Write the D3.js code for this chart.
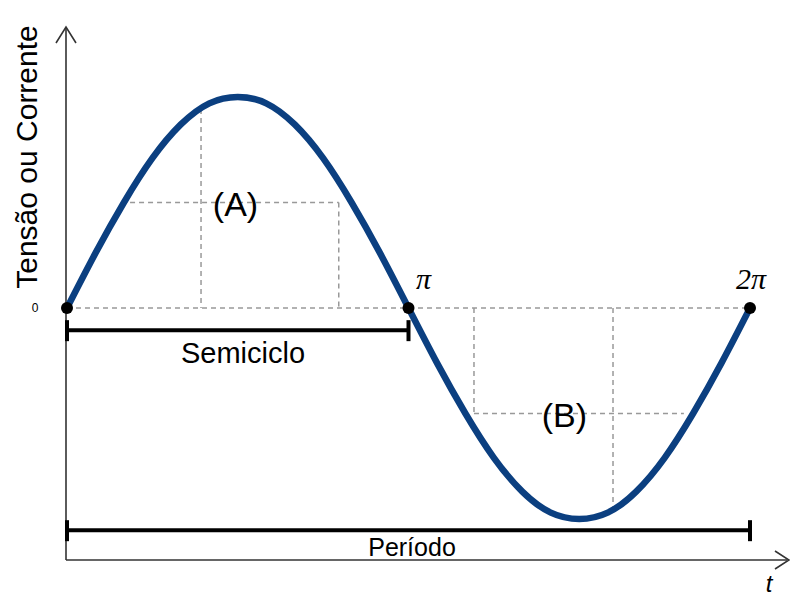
<!DOCTYPE html>
<html><head><meta charset="utf-8">
<script src="https://cdn.jsdelivr.net/npm/d3@7"></script>
<style>html,body{margin:0;padding:0;background:#fff;}svg{display:block;}</style>
</head><body>
<svg id="c" width="790" height="598"></svg>
<script>
// phase samples (in steps of pi/12) and signal values
const phaseSteps = [0,1,2,3,4,5,6,7,8,9,10,11,12,13,14,15,16,17,18,19,20,21,22,23,24];
const signal = [0,0.26,0.5,0.71,0.87,0.97,1,0.97,0.87,0.71,0.5,0.26,0,-0.26,-0.5,-0.71,-0.87,-0.97,-1,-0.97,-0.87,-0.71,-0.5,-0.26,0];
// marked points on the zero line
const markPhases = [0, Math.PI, 2*Math.PI];
const markLabels = ["", "π", "2π"];
// guide lines (phase, level)
const guideA = {x1: 0.58, xv1: 1.233, xv2: 2.50, level: 0.5, top1: 0.943};
const guideB = {xv1: 3.744, xv2: 5.023, x2: 5.675, level: -0.5, bot2: -0.95};
const regionLabels = [{t: "(A)", x: 1.55, y: 0.5}, {t: "(B)", x: 4.575, y: -0.5}];
const spans = [{t: "Semiciclo", a: 0, b: Math.PI, y: -0.105}, {t: "Período", a: 0, b: 2*Math.PI, y: -1.053}];

const svg = d3.select("#c");
const x = d3.scaleLinear().domain([0, 2*Math.PI]).range([67, 750]);
const y = d3.scaleLinear().domain([-1, 1]).range([519, 97]);
const font = "Arial, 'Liberation Sans', sans-serif";
const serif = "'Liberation Serif', 'Times New Roman', serif";

// axes
const axisY0 = 560, axisX0 = 66;
svg.append("line").attr("x1", axisX0).attr("x2", axisX0).attr("y1", 28).attr("y2", axisY0).attr("stroke", "#333").attr("stroke-width", 1.6);
svg.append("line").attr("x1", axisX0).attr("x2", 787).attr("y1", axisY0).attr("y2", axisY0).attr("stroke", "#333").attr("stroke-width", 1.6);
svg.append("path").attr("d", `M${axisX0-10},${43} L${axisX0},${27} L${axisX0+10},${43}`).attr("fill", "none").attr("stroke", "#333").attr("stroke-width", 1.6);
svg.append("path").attr("d", `M${775},${551} L${789},${560} L${775},${569}`).attr("fill", "none").attr("stroke", "#333").attr("stroke-width", 1.6);

// dashed guides
const dash = g => g.attr("stroke", "#999").attr("stroke-width", 1.5).attr("stroke-dasharray", "5,4").attr("fill", "none");
svg.append("line").attr("x1", x(0)).attr("x2", x(2*Math.PI)).attr("y1", y(0)).attr("y2", y(0)).call(dash);
svg.append("line").attr("x1", x(guideA.x1)).attr("x2", x(guideA.xv2)).attr("y1", y(guideA.level)).attr("y2", y(guideA.level)).call(dash);
svg.append("line").attr("x1", x(guideA.xv1)).attr("x2", x(guideA.xv1)).attr("y1", y(guideA.top1)).attr("y2", y(0)).call(dash);
svg.append("line").attr("x1", x(guideA.xv2)).attr("x2", x(guideA.xv2)).attr("y1", y(guideA.level)).attr("y2", y(0)).call(dash);
svg.append("line").attr("x1", x(guideB.xv1)).attr("x2", x(guideB.x2)).attr("y1", y(guideB.level)).attr("y2", y(guideB.level)).call(dash);
svg.append("line").attr("x1", x(guideB.xv1)).attr("x2", x(guideB.xv1)).attr("y1", y(0)).attr("y2", y(guideB.level)).call(dash);
svg.append("line").attr("x1", x(guideB.xv2)).attr("x2", x(guideB.xv2)).attr("y1", y(0)).attr("y2", y(guideB.bot2)).call(dash);

// span brackets
spans.forEach(s => {
  const yy = y(s.y);
  svg.append("line").attr("x1", x(s.a)).attr("x2", x(s.b)).attr("y1", yy).attr("y2", yy).attr("stroke", "#000").attr("stroke-width", 4);
  [s.a, s.b].forEach(v => svg.append("line").attr("x1", x(v)).attr("x2", x(v)).attr("y1", yy-10).attr("y2", yy+11).attr("stroke", "#000").attr("stroke-width", 4));
});
svg.append("text").attr("x", 243).attr("y", 363).attr("text-anchor", "middle")
  .attr("font-family", font).attr("font-size", 29).text(spans[0].t);
svg.append("text").attr("x", 412).attr("y", 556).attr("text-anchor", "middle")
  .attr("font-family", font).attr("font-size", 25).text(spans[1].t);

// curve
const line = d3.line().x((d, i) => x(phaseSteps[i]*Math.PI/12)).y(d => y(d)).curve(d3.curveNatural);
svg.append("path").datum(signal).attr("d", line).attr("fill", "none").attr("stroke", "#0b3f80").attr("stroke-width", 6.5).attr("stroke-linecap", "round");

// marks
svg.selectAll("circle.m").data(markPhases).enter().append("circle").attr("class", "m")
  .attr("cx", d => x(d)).attr("cy", y(0)).attr("r", 6).attr("fill", "#000");
svg.selectAll("text.ml").data(markPhases).enter().append("text").attr("class", "ml")
  .attr("x", d => x(d) + (d > 4 ? 1 : 15)).attr("y", 289).attr("text-anchor", "middle")
  .attr("font-family", serif).attr("font-style", "italic").attr("font-size", 30)
  .text((d, i) => markLabels[i]);

// region labels
regionLabels.forEach(r => svg.append("text").attr("x", x(r.x)).attr("y", y(r.y)+13).attr("text-anchor", "middle")
  .attr("font-family", font).attr("font-size", 34).text(r.t));

// axis labels
svg.append("text").attr("x", 35).attr("y", 312).attr("text-anchor", "middle").attr("font-family", font).attr("font-size", 12).text("0");
svg.append("text").attr("transform", "translate(37,157) rotate(-90)").attr("text-anchor", "middle")
  .attr("font-family", font).attr("font-size", 30).text("Tensão ou Corrente");
svg.append("text").attr("x", 769).attr("y", 592).attr("text-anchor", "middle").attr("font-family", font)
  .attr("font-style", "italic").attr("font-size", 24).text("t");
</script>
</body></html>
